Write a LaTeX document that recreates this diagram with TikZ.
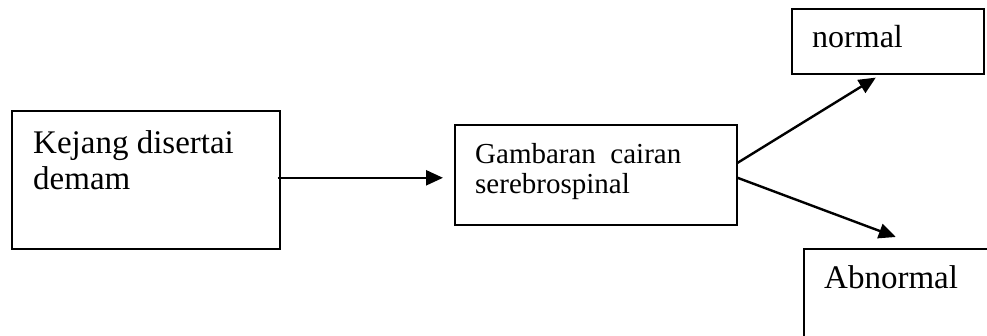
\documentclass[tikz,border=0pt]{standalone}
\usepackage{fontspec}
\setmainfont{Liberation Serif}
\usetikzlibrary{arrows.meta}
\begin{document}
\begin{tikzpicture}[x=1pt,y=-1pt,
  box/.style={draw,line width=1.6pt,rectangle,inner sep=0pt,anchor=north west},
  lbl/.style={anchor=base west,inner sep=0pt,font=\fontsize{#1}{#1}\selectfont},
  arr/.style={line width=2.4pt,-{Triangle[length=17pt,width=15pt]}}]
\clip (0,0) rectangle (987,335);
\fill[white] (0,0) rectangle (987,335);
% boxes
\node[box,minimum width=268pt,minimum height=138pt] (k) at (11,110) {};
\node[box,minimum width=282pt,minimum height=100pt] (g) at (454,124) {};
\node[box,minimum width=192pt,minimum height=65pt] (n) at (791,8) {};
\node[box,minimum width=220pt,minimum height=120pt] (a) at (803,248) {};
% texts
\node[lbl=33] (t1) at (33,153) {Kejang disertai};
\node[lbl=33] (t2) at (33,189) {demam};
\node[lbl=29] (t3) at (475,163) {Gambaran\ \ cairan};
\node[lbl=29] (t4) at (475,193) {serebrospinal};
\node[lbl=32] (t5) at (812,47) {normal};
\node[lbl=33] (t6) at (824,288) {Abnormal};
% connectors
\draw[arr,shorten <=-3pt,shorten >=11pt] ([yshift=2pt]k.east) -- ([yshift=2pt]k.east -| g.west);
\draw[arr] ([yshift=12pt]g.east) -- ([xshift=-12pt,yshift=-3pt]n.south);
\draw[arr] ([yshift=-3pt]g.east) -- ([xshift=-18pt,yshift=11pt]a.north);
\end{tikzpicture}
\end{document}
